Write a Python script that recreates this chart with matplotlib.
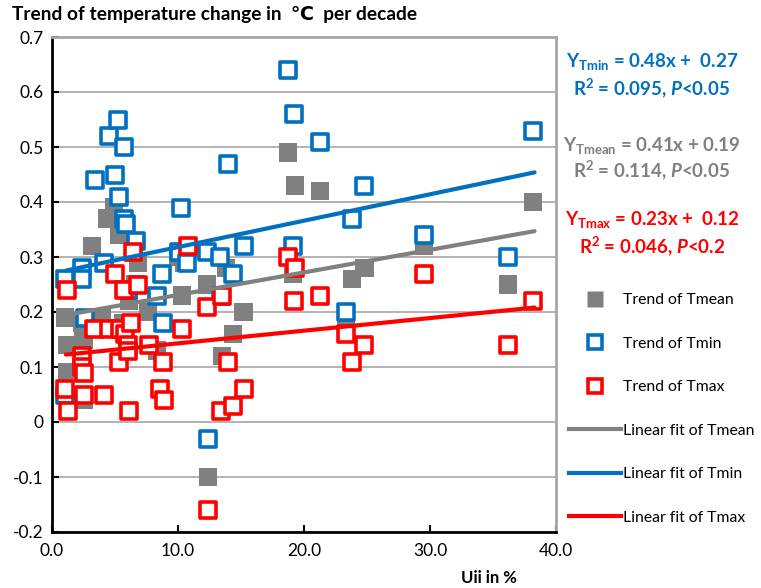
import matplotlib
matplotlib.use('Agg')
import matplotlib.pyplot as plt
from matplotlib.lines import Line2D
import numpy as np

plt.rcParams['font.family'] = ['Lato', 'DejaVu Sans']
plt.rcParams['mathtext.fontset'] = 'custom'
plt.rcParams['mathtext.rm'] = 'Lato'
plt.rcParams['mathtext.bf'] = 'Lato:bold'
plt.rcParams['mathtext.it'] = 'Lato:italic'
plt.rcParams['mathtext.bfit'] = 'Lato:italic:bold'

# trend of Tmean
x_mean = [1.0, 1.2, 1.2, 2.5, 2.5, 2.4, 3.2, 4.0, 4.4, 4.9, 5.3, 5.6, 6.1, 6.6, 6.8,
          7.6, 8.3, 10.0, 10.3, 10.5, 12.3, 12.4, 13.3, 13.5, 13.8, 14.4, 15.2,
          18.7, 19.3, 21.3, 19.1, 23.3, 23.8, 24.8, 29.5, 36.2, 38.2]
y_mean = [0.19, 0.14, 0.09, 0.15, 0.04, 0.18, 0.32, 0.19, 0.37, 0.39, 0.34, 0.18, 0.22, 0.25, 0.29,
          0.20, 0.13, 0.30, 0.23, 0.29, 0.25, -0.10, 0.30, 0.12, 0.28, 0.16, 0.20,
          0.49, 0.43, 0.42, 0.27, 0.19, 0.26, 0.28, 0.32, 0.25, 0.40]

# trend of Tmin
x_min = [1.0, 1.0, 2.4, 2.4, 2.6, 3.4, 4.1, 4.5, 5.0, 5.2, 5.3, 5.7, 5.7, 5.9, 6.0, 6.7,
         8.3, 8.7, 8.8, 10.1, 10.2, 10.7, 12.3, 12.4, 13.3, 13.4, 14.0, 14.4, 15.2,
         18.7, 19.2, 19.1, 21.3, 23.3, 23.8, 24.8, 29.5, 36.2, 38.2]
y_min = [0.26, 0.05, 0.28, 0.26, 0.19, 0.44, 0.29, 0.52, 0.45, 0.55, 0.41, 0.50, 0.37, 0.36, 0.24, 0.33,
         0.23, 0.27, 0.18, 0.31, 0.39, 0.29, 0.31, -0.03, 0.30, 0.23, 0.47, 0.27, 0.32,
         0.64, 0.56, 0.32, 0.51, 0.20, 0.37, 0.43, 0.34, 0.30, 0.53]

# trend of Tmax
x_max = [1.2, 1.0, 1.3, 2.4, 2.4, 2.5, 2.5, 3.3, 4.1, 4.5, 5.0, 5.3, 5.4, 5.7, 5.8, 6.0, 6.0,
         6.1, 6.3, 6.4, 6.8, 7.7, 8.6, 8.8, 8.9, 10.3, 10.8, 12.3, 12.4, 13.4, 13.5, 14.0,
         14.4, 15.2, 18.7, 19.3, 19.2, 21.3, 23.3, 23.8, 24.8, 29.5, 36.2, 38.2]
y_max = [0.24, 0.06, 0.02, 0.12, 0.10, 0.09, 0.05, 0.17, 0.05, 0.17, 0.27, 0.11, 0.17, 0.24, 0.16, 0.14, 0.13,
         0.02, 0.18, 0.31, 0.25, 0.14, 0.06, 0.11, 0.04, 0.17, 0.32, 0.21, -0.16, 0.02, 0.23, 0.11,
         0.03, 0.06, 0.30, 0.28, 0.22, 0.23, 0.16, 0.11, 0.14, 0.27, 0.14, 0.22]

# fit coefficients (x as fraction)
fits = {'Tmean': (0.41, 0.19), 'Tmin': (0.48, 0.27), 'Tmax': (0.23, 0.12)}
fit_range = [1.1, 38.3]

c_mean, c_min, c_max = '#808080', '#0070C0', '#FF0000'

fig = plt.figure(figsize=(7.61, 5.88), dpi=100)
ax = fig.add_axes([52/761, 56/588, 504/761, 495/588])

ax.scatter(x_mean, y_mean, marker='s', s=170, color=c_mean, edgecolors='none', zorder=3)
ax.scatter(x_min, y_min, marker='s', s=125, facecolors='white', edgecolors=c_min, linewidths=2.6, zorder=4)
ax.scatter(x_max, y_max, marker='s', s=125, facecolors='white', edgecolors=c_max, linewidths=2.6, zorder=5)

xf = np.array(fit_range)
for key, col in [('Tmean', c_mean), ('Tmin', c_min), ('Tmax', c_max)]:
    a, b = fits[key]
    ax.plot(xf, a * xf / 100 + b, color=col, lw=3, solid_capstyle='round', zorder=6)

ax.set_xlim(0, 40)
ax.set_ylim(-0.2, 0.7)
ax.set_xticks([0, 10, 20, 30, 40])
ax.set_xticklabels(['0.0', '10.0', '20.0', '30.0', '40.0'])
ax.set_yticks(np.arange(-0.2, 0.71, 0.1))
ax.set_yticklabels(['-0.2', '-0.1', '0', '0.1', '0.2', '0.3', '0.4', '0.5', '0.6', '0.7'])
ax.yaxis.grid(True, color='#a6a6a6', lw=1.2)
ax.set_axisbelow(True)
ax.tick_params(axis='both', labelsize=12.5, direction='in', length=5, width=1.5, pad=8)
ax.tick_params(axis='y', pad=6)
for s in ['left', 'bottom']:
    ax.spines[s].set_color('black')
    ax.spines[s].set_linewidth(2)
for s in ['top', 'right']:
    ax.spines[s].set_color('#a6a6a6')
    ax.spines[s].set_linewidth(2)

fig.text(12/761, 1 - 14/588, 'Trend of temperature change in  ℃  per decade',
         fontsize=13.8, fontweight='bold', va='center', ha='left')
fig.text(489/761, 1 - 578/588, 'Uii in %', fontsize=12, fontweight='bold', va='center', ha='center')

eqs = [
    (c_min, 62, 88, r'$\mathbf{Y_{Tmin}}$ = 0.48x +  0.27', r'R$\mathbf{^2}$ = 0.095, $\mathbfit{P}$<0.05'),
    (c_mean, 145, 170, r'$\mathbf{Y_{Tmean}}$ = 0.41x + 0.19', r'R$\mathbf{^2}$ = 0.114, $\mathbfit{P}$<0.05'),
    (c_max, 220, 246, r'$\mathbf{Y_{Tmax}}$ = 0.23x +  0.12', r'R$\mathbf{^2}$ = 0.046, $\mathbfit{P}$<0.2'),
]
for col, y1, y2, t1, t2 in eqs:
    fig.text(652/761, 1 - y1/588, t1, color=col, fontsize=13.5, fontweight='bold', ha='center', va='center')
    fig.text(652/761, 1 - y2/588, t2, color=col, fontsize=13.5, fontweight='bold', ha='center', va='center')

handles = [
    Line2D([], [], marker='s', ls='none', markersize=11, color=c_mean, markeredgecolor='none'),
    Line2D([], [], marker='s', ls='none', markersize=9.5, markerfacecolor='white', markeredgecolor=c_min, markeredgewidth=2.6),
    Line2D([], [], marker='s', ls='none', markersize=9.5, markerfacecolor='white', markeredgecolor=c_max, markeredgewidth=2.6),
    Line2D([], [], color=c_mean, lw=3),
    Line2D([], [], color=c_min, lw=3),
    Line2D([], [], color=c_max, lw=3),
]
labels = ['Trend of Tmean', 'Trend of Tmin', 'Trend of Tmax',
          'Linear fit of Tmean', 'Linear fit of Tmin', 'Linear fit of Tmax']
fig.legend(handles, labels, loc='upper left', bbox_to_anchor=(563/761, 1 - 287/588),
           frameon=False, fontsize=11.3, handlelength=3.3, handletextpad=0.15, labelspacing=1.88,
           borderaxespad=0)

fig.savefig('out.png', dpi=100)
